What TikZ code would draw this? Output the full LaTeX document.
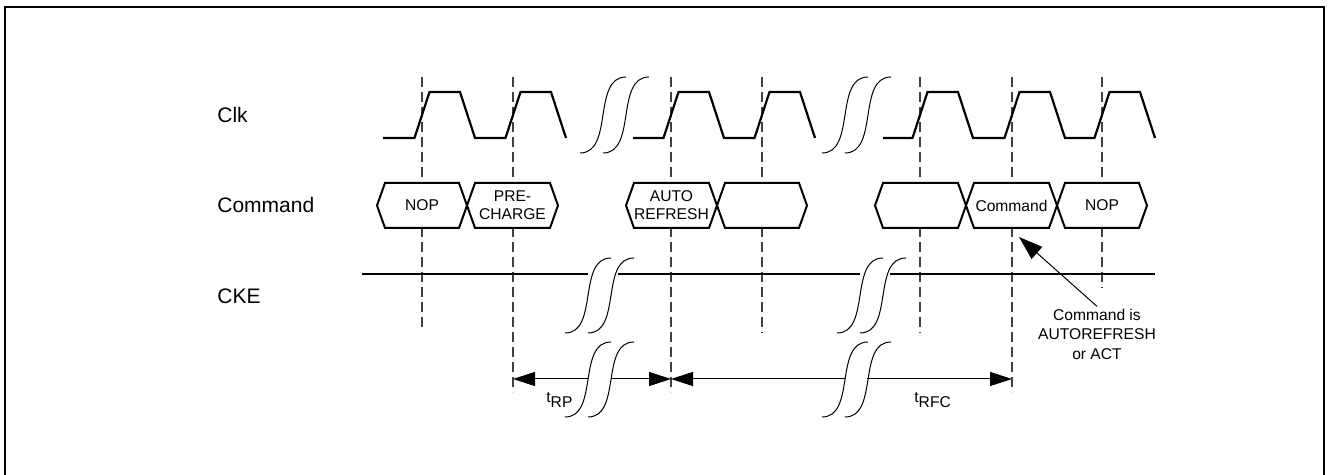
\documentclass[tikz,border=0pt]{standalone}
\usepackage{fontspec}
\setmainfont{Liberation Sans}
\usetikzlibrary{arrows.meta, positioning}

\tikzset{
  wave/.style={line width=1.1pt, line join=miter},
  bus/.style={line width=1pt, fill=white},
  tick/.style={black!75, line width=0.65pt, dash pattern=on 5pt off 2.5pt},
  brk/.style={line width=0.5pt},
  dim/.style={line width=0.5pt},
  siglabel/.style={font=\fontsize{10.5}{12}\selectfont, anchor=west, inner sep=0pt},
  buslabel/.style={font=\fontsize{7.8}{9}\selectfont, align=center, inner sep=0pt},
  note/.style={font=\fontsize{7.8}{9.75}\selectfont, align=center, inner sep=1pt},
}

\newcommand{\brkmark}[3]{%
  \draw[brk] (#1,#2) .. controls (#1+34,#2) and (#1+12,#3) .. (#1+46,#3);
  \draw[brk] (#1+23,#2) .. controls (#1+57,#2) and (#1+35,#3) .. (#1+69,#3);
}
\newcommand{\busbox}[4]{%
  \draw[bus] (#2,205.5) -- (#2+8,183) -- (#3-8,183) -- (#3,205.5) -- (#3-8,228) -- (#2+8,228) -- cycle;
  \node[buslabel] (#1) at ({(#2+#3)/2},205.5) {#4};
}

\begin{document}
\begin{tikzpicture}[x=0.5pt, y=-0.5pt]
        \useasboundingbox (0,0) rectangle (1329,475);
        \draw[line width=0.8pt] (5,476) -- (5,7) -- (1324,7) -- (1324,476);

        \node[siglabel] (clk) at (217,115) {Clk};
        \node[siglabel] (cmd) at (217,205) {Command};
        \node[siglabel] (cke) at (217,296) {CKE};

        \foreach \x/\e in {422/328, 513/392, 671/392, 762/333, 920/333, 1012/392, 1102/288}
            \draw[tick] (\x,77) -- (\x,\e);

        \draw[wave] (383,138) \foreach \t in {422,513} { -- (\t-7.5,138) -- (\t+7.5,92) -- (\t+38,92) -- (\t+53,138) };
        \draw[wave] (633,138) \foreach \t in {671,762} { -- (\t-7.5,138) -- (\t+7.5,92) -- (\t+38,92) -- (\t+53,138) };
        \draw[wave] (883,138) \foreach \t in {920,1012,1102} { -- (\t-7.5,138) -- (\t+7.5,92) -- (\t+38,92) -- (\t+53,138) };
        \brkmark{580}{153}{77}
        \brkmark{822}{153}{77}

        \busbox{nop1}{377}{467}{NOP}
        \busbox{pre}{467}{558}{PRE-\\CHARGE}
        \busbox{aref}{626}{717}{AUTO\\REFRESH}
        \busbox{blank1}{717}{807}{}
        \busbox{blank2}{875}{966}{}
        \busbox{cmdbox}{966}{1057}{Command}
        \busbox{nop2}{1057}{1147}{NOP}

        \draw[wave] (362,274) -- (588,274)
            (618,274) -- (860,274)
            (890,274) -- (1155,274);
        \brkmark{565}{333}{258}
        \brkmark{837}{333}{258}

        \coordinate (rp-l) at (513,379);
        \coordinate (rp-m) at (588,379);
        \coordinate (rp-n) at (611,379);
        \coordinate (rp-r) at (671,379);
        \coordinate (rfc-m) at (845,379);
        \coordinate (rfc-n) at (867,379);
        \coordinate (rfc-r) at (1012,379);
        \draw[dim, {Triangle[length=11pt,width=7pt]}-] (rp-l) -- (rp-m);
        \draw[dim, -{Triangle[length=11pt,width=7pt]}] (rp-n) -- (rp-r);
        \draw[dim, {Triangle[length=11pt,width=7pt]}-] (rp-r) -- (rfc-m);
        \draw[dim, -{Triangle[length=11pt,width=7pt]}] (rfc-n) -- (rfc-r);
        \brkmark{565}{417}{342}
        \brkmark{822}{417}{342}

        \node[buslabel, anchor=west] (trp) at (546,400) {t\raisebox{-0.55ex}{RP}};
        \node[buslabel, anchor=west] (trfc) at (914,400) {t\raisebox{-0.55ex}{RFC}};

        \node[note] (cmdnote) at (1097,334) {Command is\\AUTOREFRESH\\or ACT};
        \coordinate (cmdtip) at (1019,237);
        \draw[dim, -{Triangle[length=12pt,width=8pt]}] (cmdnote.north) -- (cmdtip);
\end{tikzpicture}
\end{document}
